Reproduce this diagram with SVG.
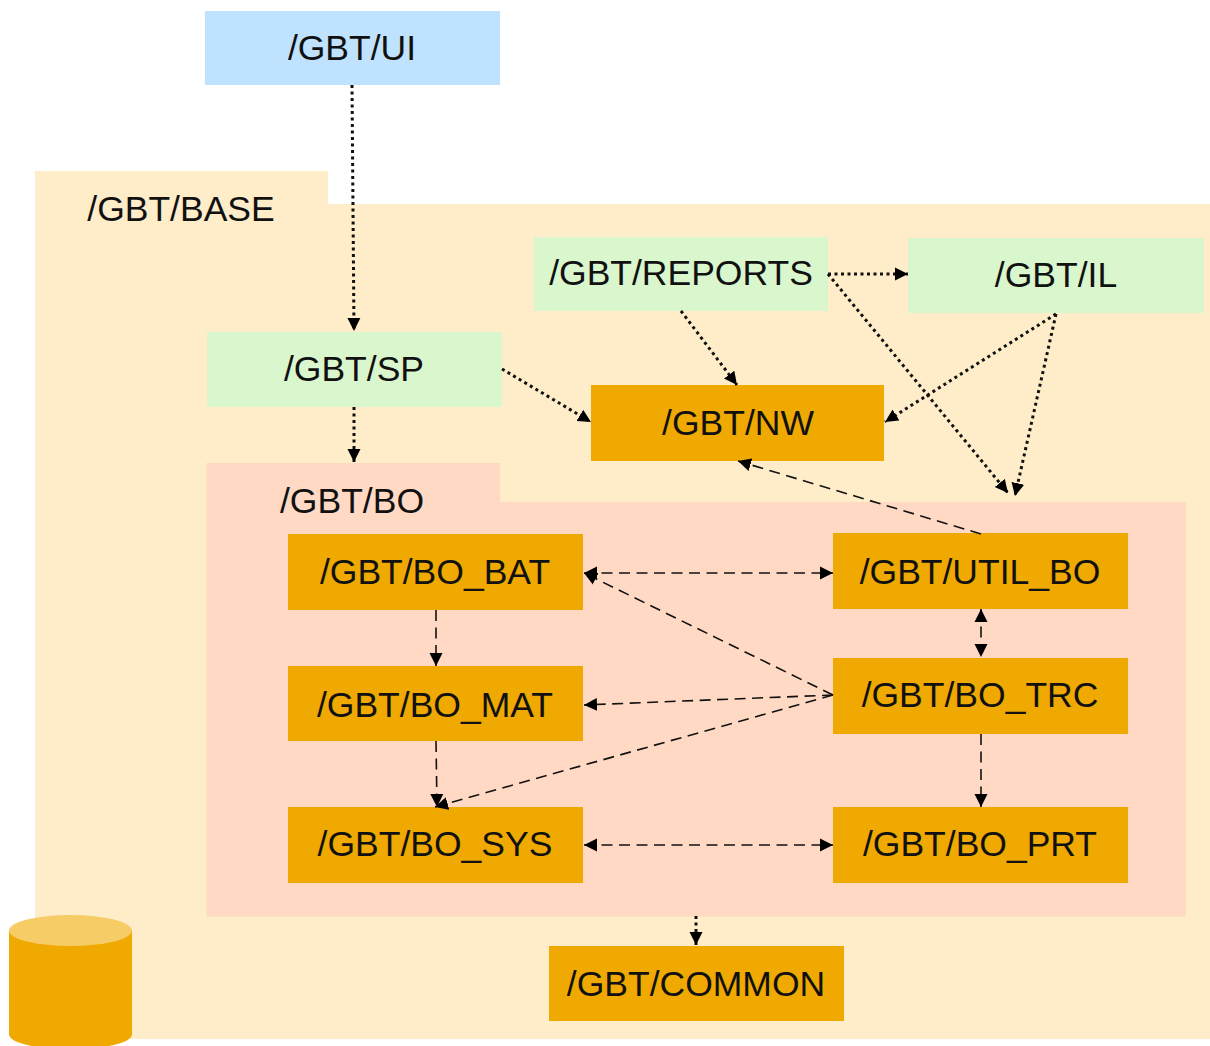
<svg xmlns="http://www.w3.org/2000/svg" width="1210" height="1046" viewBox="0 0 1210 1046">
<defs>
<marker id="a" markerUnits="userSpaceOnUse" markerWidth="15" markerHeight="14" refX="13" refY="7" orient="auto"><path d="M0 0.500L13 7L0 13.500Z" fill="#000"/></marker>
<marker id="s" markerUnits="userSpaceOnUse" markerWidth="15" markerHeight="14" refX="0" refY="7" orient="auto"><path d="M13 0.500L0 7L13 13.500Z" fill="#000"/></marker>
</defs>
<style>
text{font-family:"Liberation Sans",Arial,sans-serif;font-size:35.500px;fill:#111;text-anchor:middle}
.o{fill:#efa900}.g{fill:#d9f6cd}
.dot,.dash{fill:none;stroke:#111;marker-end:url(#a)}
.dot{stroke-width:3;stroke-dasharray:3 3.500}
.dash{stroke-width:1.600;stroke-dasharray:11 6.500}
.both{marker-start:url(#s)}
</style>
<rect width="1210" height="1046" fill="#fff"/>
<g id="base"><path d="M35 171H328V204H1210V1039H35Z" fill="#feedc8"/><text x="181" y="221">/GBT/BASE</text></g>
<g id="bo"><path d="M206.500 463H500V502H1186V916.500H206.500Z" fill="#ffd9c4"/><text x="352" y="513">/GBT/BO</text></g>
<g id="ui"><rect x="205" y="11" width="295" height="74" fill="#bfe3ff"/><text x="352" y="60">/GBT/UI</text></g>
<g id="sp"><rect class="g" x="207" y="332" width="295" height="75"/><text x="354" y="381">/GBT/SP</text></g>
<g id="reports"><rect class="g" x="534" y="237" width="294" height="74"/><text x="681" y="285">/GBT/REPORTS</text></g>
<g id="il"><rect class="g" x="908" y="238" width="296" height="75"/><text x="1056" y="287">/GBT/IL</text></g>
<g id="nw"><rect class="o" x="591" y="385" width="293" height="76"/><text x="738" y="435">/GBT/NW</text></g>
<g id="bo_bat"><rect class="o" x="288" y="534" width="295" height="76"/><text x="435" y="584">/GBT/BO_BAT</text></g>
<g id="util_bo"><rect class="o" x="833" y="533" width="295" height="76"/><text x="980" y="584">/GBT/UTIL_BO</text></g>
<g id="bo_mat"><rect class="o" x="288" y="666" width="295" height="75"/><text x="435" y="717">/GBT/BO_MAT</text></g>
<g id="bo_trc"><rect class="o" x="833" y="658" width="295" height="76"/><text x="980" y="707">/GBT/BO_TRC</text></g>
<g id="bo_sys"><rect class="o" x="288" y="807" width="295" height="76"/><text x="435" y="856">/GBT/BO_SYS</text></g>
<g id="bo_prt"><rect class="o" x="833" y="807" width="295" height="76"/><text x="980" y="856">/GBT/BO_PRT</text></g>
<g id="common"><rect class="o" x="549" y="946" width="295" height="75"/><text x="696" y="996">/GBT/COMMON</text></g>
<g id="db"><path d="M9 931V1034C9 1054 132 1054 132 1034V931Z" fill="#efa900"/><ellipse cx="70.500" cy="930.500" rx="61.500" ry="15.500" fill="#f6cc66"/></g>
<g id="connectors">
<path class="dot" d="M352 85L354 331"/>
<path class="dot" d="M354 407V462"/>
<path class="dot" d="M502 369L591 422"/>
<path class="dot" d="M681 311L737 385"/>
<path class="dot" d="M828 274H908"/>
<path class="dot" d="M828 274L1008 493"/>
<path class="dot" d="M1056 314L885 422"/>
<path class="dot" d="M1056 314L1015 496"/>
<path class="dot" d="M696 916V945"/>
<path class="dash" d="M981 534L738 461"/>
<path class="dash both" d="M584 573H833"/>
<path class="dash" d="M833 695L584 573"/>
<path class="dash" d="M833 695L584 705"/>
<path class="dash" d="M833 695L435 807"/>
<path class="dash" d="M436 610V666"/>
<path class="dash" d="M436 741L437 807"/>
<path class="dash both" d="M981 609V657"/>
<path class="dash" d="M981 734V807"/>
<path class="dash both" d="M584 845H833"/>
</g>
</svg>
